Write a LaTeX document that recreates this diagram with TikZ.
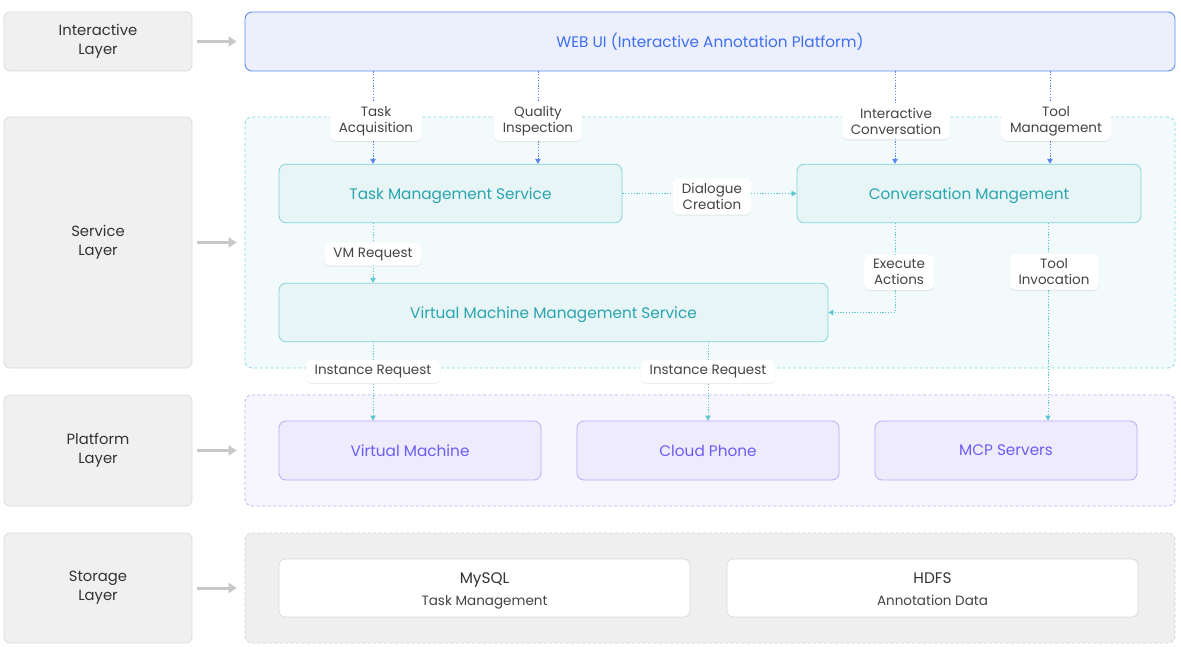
\documentclass[tikz,border=0pt]{standalone}
\usepackage{fontspec}
\setmainfont{Poppins}
\usetikzlibrary{arrows.meta,shadows}
\definecolor{laybg}{HTML}{F0F0F0}
\definecolor{laybd}{HTML}{DCDCDC}
\definecolor{laytx}{HTML}{333333}
\definecolor{gray arr}{HTML}{C8C8C8}
\definecolor{webbg}{HTML}{ECF0FD}
\definecolor{webbd}{HTML}{5E8CF2}
\definecolor{webtx}{HTML}{3F6FF0}
\definecolor{svcbg}{HTML}{F3FAFB}
\definecolor{svcbd}{HTML}{86D8DE}
\definecolor{svcboxbg}{HTML}{E7F5F7}
\definecolor{svcboxbd}{HTML}{86D3DA}
\definecolor{svctx}{HTML}{2AA5AD}
\definecolor{plabg}{HTML}{F7F6FE}
\definecolor{plabd}{HTML}{BBAEF6}
\definecolor{plaboxbg}{HTML}{EEEBFD}
\definecolor{plaboxbd}{HTML}{B9ABF7}
\definecolor{platx}{HTML}{6B5DF2}
\definecolor{stobg}{HTML}{EFEFEF}
\definecolor{stobd}{HTML}{D2D2D2}
\definecolor{stoboxbd}{HTML}{DADADA}
\definecolor{lbltx}{HTML}{444444}
\definecolor{blueline}{HTML}{5B85F0}
\definecolor{tealline}{HTML}{5CC9D0}
\tikzset{
  layerbox/.style={draw=laybd, fill=laybg, rounded corners=6pt, line width=0.8pt,
    minimum width=188pt, inner sep=0pt, text=laytx, align=center,
    font=\fontsize{14.8}{19}\selectfont},
  container/.style={rounded corners=7pt, line width=0.8pt, dash pattern=on 3pt off 2.5pt,
    minimum width=930pt, inner sep=0pt},
  webbox/.style={draw=webbd, fill=webbg, rounded corners=7pt, line width=0.9pt,
    minimum width=930pt, minimum height=59pt, inner sep=0pt, text=webtx,
    font=\fontsize{15.3}{18}\selectfont},
  svcbox/.style={draw=svcboxbd, fill=svcboxbg, rounded corners=7pt, line width=0.8pt,
    minimum height=58.5pt, inner sep=0pt, text=svctx, text depth=0pt,
    font=\fontsize{15.3}{18}\selectfont},
  plabox/.style={draw=plaboxbd, fill=plaboxbg, rounded corners=7pt, line width=0.8pt,
    minimum width=262pt, minimum height=59pt, inner sep=0pt, text=platx,
    font=\fontsize{15.3}{18}\selectfont},
  stobox/.style={draw=stoboxbd, fill=white, rounded corners=6pt, line width=0.8pt,
    minimum width=411pt, minimum height=58pt, inner sep=0pt, align=center,
    text height=35pt, text depth=0pt, text=lbltx, font=\fontsize{13.5}{22}\selectfont},
  lbl/.style={fill=white, rounded corners=6pt, text=lbltx, align=center,
    inner xsep=9pt, inner ysep=5pt, font=\fontsize{13.5}{16}\selectfont,
    drop shadow={shadow xshift=0pt, shadow yshift=-1pt, opacity=0.08, fill=black}},
  layerarrow/.style={draw=gray arr, line width=3pt,
    -{Triangle[length=8pt,width=10pt]}, shorten <=5pt, shorten >=8pt},
  blueconn/.style={draw=blueline, line width=0.8pt, dash pattern=on 1.2pt off 1.6pt,
    -{Triangle[length=5pt,width=5.5pt]}},
  tealconn/.style={draw=tealline, line width=0.8pt, dash pattern=on 1.2pt off 1.6pt,
    -{Triangle[length=5pt,width=5.5pt]}},
}
\newcommand{\stotitle}[1]{{\fontsize{15.3}{22}\selectfont\color{laytx}#1}}
\begin{document}
\begin{tikzpicture}[x=1pt,y=-1pt]
\useasboundingbox (0,0) rectangle (1181,647);
\fill[white] (0,0) rectangle (1181,647);

% layer boxes
\node[layerbox, minimum height=59pt] (L1) at (98,41.5) {Interactive\\Layer};
\node[layerbox, minimum height=251pt] (L2) at (98,242.5) {Service\\Layer};
\node[layerbox, minimum height=111pt] (L3) at (98,450.5) {Platform\\Layer};
\node[layerbox, minimum height=110pt] (L4) at (98,588) {Storage\\Layer};

% containers
\node[webbox] (web) at (710,41.5) {WEB UI (Interactive Annotation Platform)};
\node[container, draw=svcbd, fill=svcbg, minimum height=251pt] (svc) at (710,242.5) {};
\node[container, draw=plabd, fill=plabg, minimum height=111pt] (pla) at (710,450.5) {};
\node[container, draw=stobd, fill=stobg, minimum height=110pt] (sto) at (710,588) {};

% layer arrows
\draw[layerarrow] (L1.east) -- (web.west);
\draw[layerarrow] (L2.east) -- (svc.west);
\draw[layerarrow] (L3.east) -- (pla.west);
\draw[layerarrow] (L4.east) -- (sto.west);

% service boxes
\node[svcbox, minimum width=343pt] (tms) at (450.5,193.5) {Task Management Service};
\node[svcbox, minimum width=344pt] (cm) at (969,193.5) {Conversation Mangement};
\node[svcbox, minimum width=549pt] (vms) at (553.5,312.5) {Virtual Machine Management Service};

% platform boxes
\node[plabox] (vm) at (410,450.5) {Virtual Machine};
\node[plabox] (cp) at (708,450.5) {Cloud Phone};
\node[plabox] (mcp) at (1006,450.5) {MCP Servers};

% storage boxes
\node[stobox] (mysql) at (484.5,588) {\stotitle{MySQL}\\Task Management};
\node[stobox] (hdfs) at (932.5,588) {\stotitle{HDFS}\\Annotation Data};

% connectors from web UI
\draw[blueconn] (web.south -| 373,0) -- node[lbl, pos=0.538, xshift=3pt] (ta) {Task\\Acquisition} (tms.north -| 373,0);
\draw[blueconn] (web.south -| 538,0) -- node[lbl, pos=0.538] (qi) {Quality\\Inspection} (tms.north -| 538,0);
\draw[blueconn] (web.south -| 895,0) -- node[lbl, pos=0.538, xshift=1pt] (ic) {Interactive\\Conversation} (cm.north -| 895,0);
\draw[blueconn] (web.south -| 1050,0) -- node[lbl, pos=0.538, xshift=6pt] (tm) {Tool\\Management} (cm.north -| 1050,0);

% service connectors
\draw[tealconn] (tms.east) -- node[lbl, pos=0.514, yshift=-3pt] (dc) {Dialogue\\Creation} (cm.west);
\draw[tealconn] (tms.south -| 373,0) -- node[lbl, pos=0.52] (vr) {VM Request} (vms.north -| 373,0);
\draw[tealconn] (cm.south -| 895,0) |- node[lbl, pos=0.275, xshift=4pt] (ea) {Execute\\Actions} (vms.east);
\draw[tealconn] (cm.south -| 1048,0) -- node[lbl, pos=0.247, xshift=6pt] (ti) {Tool\\Invocation} (mcp.north -| 1048,0);
\draw[tealconn] (vms.south -| 373,0) -- node[lbl, pos=0.375] (ir1) {Instance Request} (vm.north -| 373,0);
\draw[tealconn] (vms.south -| 708,0) -- node[lbl, pos=0.375] (ir2) {Instance Request} (cp.north -| 708,0);
\end{tikzpicture}
\end{document}
